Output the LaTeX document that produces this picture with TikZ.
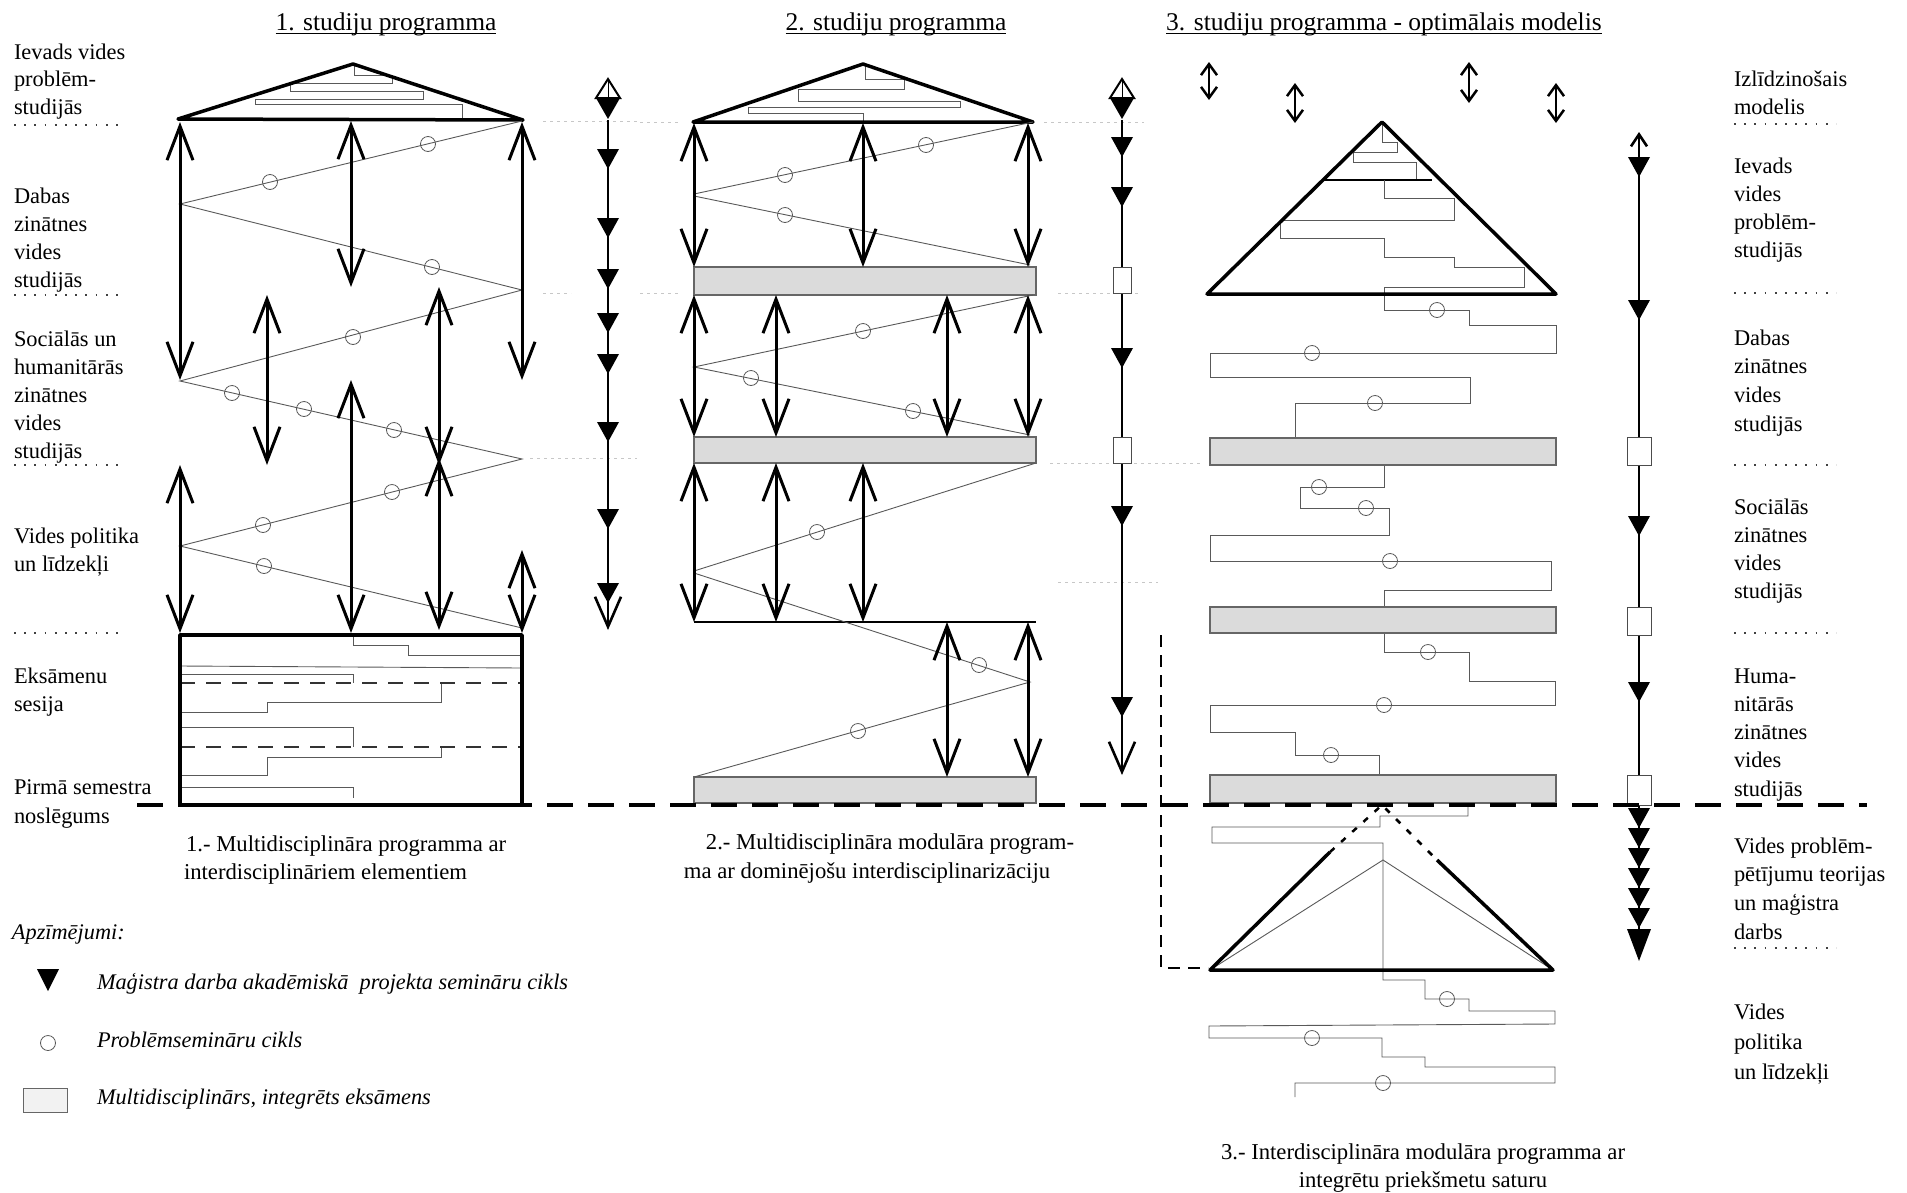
\documentclass[tikz,border=0pt]{standalone}
\usepackage{fontspec}
\setmainfont{Liberation Serif}
\usetikzlibrary{arrows.meta}

% a block of text lines: name, style, x, first baseline, line step, lines
\newcommand\textlines[6]{%
  \foreach \t [count=\i from 0] in {#6}{%
    \node[#2] (#1-\i) at (#3,{#4+#5*\i}) {\t};}}

\tikzset{
  every node/.style={inner sep=0pt, outer sep=0pt},
  lbl/.style={anchor=base west, font=\fontsize{22.4}{28}\selectfont},
  ttl/.style={anchor=base, font=\fontsize{25.5}{30}\selectfont},
  capw/.style={anchor=base west, font=\fontsize{22.7}{28}\selectfont},
  capc/.style={anchor=base, font=\fontsize{22.7}{28}\selectfont},
  leg/.style={anchor=base west, font=\fontsize{22.3}{28}\selectfont\itshape},
  frame/.style={line width=3.5pt, line join=round},
  thn/.style={line width=0.9pt, draw=black!65},
  dar/.style={line width=3pt,
    {Straight Barb[length=34pt,width=26pt]}-{Straight Barb[length=34pt,width=26pt]}},
  sdar/.style={line width=2.5pt,
    {Straight Barb[length=11pt,width=16pt]}-{Straight Barb[length=11pt,width=16pt]}},
  seminar/.style={circle, draw=black!65, line width=0.8pt, minimum size=15pt},
  exam/.style={fill=black!14, draw=black!60, line width=1.2pt},
  colbox/.style={fill=white, draw=black!70, line width=1pt},
  dots/.style={line width=1.8pt, dash pattern=on 1.8pt off 8.4pt, black!75},
  ghost/.style={line width=1pt, dash pattern=on 3pt off 4pt, black!22},
  col/.style={line width=2.6pt},
  dtri/.pic={\fill (-11,-10) -- (11,-10) -- (0,10) -- cycle;},
  bigtri/.pic={\fill (-12,-16) -- (12,-16) -- (0,16) -- cycle;},
}

\begin{document}
\begin{tikzpicture}[x=1pt,y=-1pt]
\path[use as bounding box] (0,0) rectangle (1907,1192);

% ---------- titles ----------
\node[ttl] (t1) at (386,30) {1. studiju programma};
\node[ttl] (t2) at (896,30) {2. studiju programma};
\node[ttl] (t3) at (1384,30) {3. studiju programma - optimālais modelis};
\foreach \n in {t1,t2,t3}
  \draw[line width=0.8pt] ([yshift=-3pt]\n.base west) -- ([yshift=-3pt]\n.base east);

% ---------- left row labels ----------
\textlines{la}{lbl}{14}{59}{27.5}{Ievads vides,problēm-,studijās}
\textlines{lb}{lbl}{14}{203}{28.3}{Dabas,zinātnes,vides,studijās}
\textlines{lc}{lbl}{14}{346}{28}{Sociālās un,humanitārās,zinātnes,vides,studijās}
\textlines{ld}{lbl}{14}{543}{28}{Vides politika,un līdzekļi}
\textlines{le}{lbl}{14}{683}{28}{Eksāmenu,sesija}
\textlines{lf}{lbl}{14}{794}{29}{Pirmā semestra,noslēgums}
\foreach \y in {125,295,465,633} \draw[dots] (14,\y) -- (118,\y);

% ---------- right row labels ----------
\textlines{ra}{lbl}{1734}{86}{28}{Izlīdzinošais,modelis}
\textlines{rb}{lbl}{1734}{173}{28.3}{Ievads,vides,problēm-,studijās}
\textlines{rc}{lbl}{1734}{345}{28.7}{Dabas,zinātnes,vides,studijās}
\textlines{rd}{lbl}{1734}{514}{28.3}{Sociālās,zinātnes,vides,studijās}
\textlines{re}{lbl}{1734}{683}{28.25}{Huma-,nitārās,zinātnes,vides,studijās}
\textlines{rf}{lbl}{1734}{853}{28.7}{Vides problēm-,pētījumu teorijas,un maģistra,darbs}
\textlines{rg}{lbl}{1734}{1019}{30}{Vides,politika,un līdzekļi}
\foreach \y in {124,293,465,633,948} \draw[dots] (1734,\y) -- (1836,\y);

% ---------- faint row guides ----------
\draw[ghost] (543,121) -- (637,121);
\draw[ghost] (543,293) -- (571,293);
\draw[ghost] (530,458) -- (637,458);
\draw[ghost] (640,122) -- (680,122) (1044,122) -- (1144,122);
\draw[ghost] (640,293) -- (680,293) (1058,293) -- (1140,293);
\draw[ghost] (1050,463) -- (1200,463);
\draw[ghost] (1058,582) -- (1158,582);

% =====================================================
% Programme 1
% =====================================================
\draw[thn] (354,65) -- (354,75) -- (392,75) -- (392,83) -- (290,83) -- (290,91)
  -- (423,91) -- (423,99) -- (255,99) -- (255,104) -- (462,104) -- (462,120);
\draw[frame] (178,119) -- (353,64) -- (523,120) -- cycle;

\draw[thn] (522,121) -- (180,204) -- (522,290) -- (180,381) -- (522,459)
  -- (180,546) -- (522,628);
\foreach \p [count=\i] in {(428,144),(270,182),(432,267),(353,337),(232,393),
    (304,409),(394,430),(392,492),(263,525),(264,566)}
  \node[seminar] (s1-\i) at \p {};

\draw[dar] (180,122) -- (180,380);
\draw[dar] (351,121) -- (351,287);
\draw[dar] (522,122) -- (522,380);
\draw[dar] (267,295) -- (267,465);
\draw[dar] (439,287) -- (439,465);
\draw[dar] (351,380) -- (351,633);
\draw[dar] (180,465) -- (180,633);
\draw[dar] (439,458) -- (439,630);
\draw[dar] (522,550) -- (522,633);

% examination session block
\draw[thn] (353,635) -- (353,645) -- (408,645) -- (408,655) -- (522,655);
\draw[thn] (180,666) -- (522,668);
\draw[thn] (180,674) -- (353,674) -- (353,683);
\draw[thn] (441,683) -- (441,702) -- (267,702) -- (267,712) -- (180,712);
\draw[thn] (180,727) -- (353,727) -- (353,747);
\draw[thn] (441,747) -- (441,757) -- (267,757) -- (267,775) -- (180,775);
\draw[thn] (180,787) -- (353,787) -- (353,798);
\draw[line width=2.5pt, dash pattern=on 15pt off 11pt, black!80]
  (180,683) -- (522,683) (180,747) -- (522,747);
\draw[frame] (180,635) rectangle (522,805);

% seminar column
\draw[col, -{Straight Barb[length=30pt,width=26pt]}] (608,120) -- (608,630);
\foreach \y in {159,228,279,323,364,432,519,593} \pic at (608,\y) {dtri};
\draw[line width=2pt, line join=miter] (596,98) -- (608,79) -- (620,98) -- cycle;
\draw[line width=1pt] (608,80) -- (608,98);
\fill (596,98) -- (620,98) -- (608,119) -- cycle;

% =====================================================
% Programme 2
% =====================================================
\draw[thn] (865,65) -- (865,79) -- (904,79) -- (904,89) -- (798,89) -- (798,101)
  -- (960,101) -- (960,107) -- (748,107) -- (748,113) -- (863,113) -- (863,122);
\draw[frame] (693,122) -- (863,64) -- (1033,122) -- cycle;

\draw[exam] (694,267) rectangle (1036,295);
\draw[exam] (694,437) rectangle (1036,463);
\draw[exam] (694,777) rectangle (1036,803);
\draw[line width=2.5pt] (694,622) -- (1036,622);

\draw[thn] (1033,122) -- (694,194) (694,196) -- (1030,265);
\draw[thn] (1033,295) -- (694,367) -- (1030,435);
\draw[thn] (1036,463) -- (694,571) (694,573) -- (1030,682) -- (694,777);
\foreach \p [count=\i] in {(926,145),(785,175),(785,215),(863,331),(751,378),
    (913,411),(817,532),(979,665),(858,731)}
  \node[seminar] (s2-\i) at \p {};

\draw[dar] (694,123) -- (694,267);
\draw[dar] (863,123) -- (863,267);
\draw[dar] (1028,123) -- (1028,267);
\draw[dar] (694,295) -- (694,437);
\draw[dar] (776,295) -- (776,437);
\draw[dar] (947,295) -- (947,437);
\draw[dar] (1028,295) -- (1028,437);
\draw[dar] (694,463) -- (694,622);
\draw[dar] (776,463) -- (776,622);
\draw[dar] (863,463) -- (863,622);
\draw[dar] (947,622) -- (947,777);
\draw[dar] (1028,622) -- (1028,777);

% seminar column
\draw[col, -{Straight Barb[length=30pt,width=26pt]}] (1122,120) -- (1122,775);
\foreach \y in {147,197,358,516,707} \pic at (1122,\y) {dtri};
\draw[colbox] (1113,267) rectangle (1131,293);
\draw[colbox] (1113,437) rectangle (1131,463);
\draw[line width=2pt, line join=miter] (1110,98) -- (1122,79) -- (1134,98) -- cycle;
\draw[line width=1pt] (1122,80) -- (1122,98);
\fill (1110,98) -- (1134,98) -- (1122,119) -- cycle;

% =====================================================
% Programme 3
% =====================================================
\draw[sdar] (1209,62) -- (1209,100);
\draw[sdar] (1295,83) -- (1295,123);
\draw[sdar] (1469,62) -- (1469,103);
\draw[sdar] (1556,83) -- (1556,123);

\draw[thn] (1382,124) -- (1382,142) -- (1397,142) -- (1397,152) -- (1353,152)
  -- (1353,162) -- (1416,162) -- (1416,180);
\draw[line width=2.5pt] (1323,180) -- (1432,180);
\draw[thn] (1384,180) -- (1384,198) -- (1454,198) -- (1454,220) -- (1280,220)
  -- (1280,238) -- (1384,238) -- (1384,257) -- (1454,257) -- (1454,267)
  -- (1524,267) -- (1524,287) -- (1384,287) -- (1384,310) -- (1469,310)
  -- (1469,325) -- (1556,325) -- (1556,353) -- (1210,353) -- (1210,377)
  -- (1470,377) -- (1470,403) -- (1295,403) -- (1295,438);
\draw[frame] (1207,294) -- (1382,122) -- (1556,294) -- cycle;

\draw[thn] (1384,465) -- (1384,487) -- (1300,487) -- (1300,508) -- (1389,508)
  -- (1389,535) -- (1210,535) -- (1210,561) -- (1551,561) -- (1551,590)
  -- (1384,590) -- (1384,607);
\draw[thn] (1384,633) -- (1384,652) -- (1469,652) -- (1469,681) -- (1555,681)
  -- (1555,705) -- (1210,705) -- (1210,732) -- (1295,732) -- (1295,755)
  -- (1379,755) -- (1379,775);
\draw[thn] (1468,803) -- (1468,816) -- (1380,816) -- (1380,827) -- (1212,827)
  -- (1212,843) -- (1383,843) -- (1383,980) -- (1425,980) -- (1425,999)
  -- (1469,999) -- (1469,1011) -- (1555,1011) -- (1555,1024) -- (1209,1026)
  -- (1209,1038) -- (1382,1038) -- (1382,1057) -- (1425,1057) -- (1425,1067)
  -- (1555,1067) -- (1555,1083) -- (1295,1083) -- (1295,1097);

\draw[exam] (1210,438) rectangle (1556,465);
\draw[exam] (1210,607) rectangle (1556,633);
\draw[exam] (1210,775) rectangle (1556,803);

\foreach \p [count=\i] in {(1437,310),(1312,353),(1375,403),(1319,487),(1366,508),
    (1390,561),(1428,652),(1384,705),(1331,755),(1447,999),(1312,1038),(1383,1083)}
  \node[seminar] (s3-\i) at \p {};

% final module: thesis pyramid
\draw[thn] (1210,970) -- (1383,860) -- (1553,970);
\draw[frame] (1330,852) -- (1210,970) -- (1553,970) -- (1437,860);
\draw[line width=2.5pt, dash pattern=on 6pt off 9pt] (1330,852) -- (1382,805) -- (1437,860);

% link from the second examination back to the pyramid
\draw[line width=1.5pt, dash pattern=on 12pt off 8pt] (1161,635) -- (1161,968) -- (1208,968);

% seminar column
\draw[col, {Straight Barb[length=12pt,width=16pt]}-] (1639,132) -- (1639,805);
\draw[col] (1639,805) -- (1639,955);
\foreach \y in {167,310,526,692} \pic at (1639,\y) {dtri};
\foreach \y in {818,838,858,878,898,918} \pic at (1639,\y) {dtri};
\pic at (1639,945) {bigtri};
\draw[colbox] (1627,437) rectangle (1651,465);
\draw[colbox] (1627,607) rectangle (1651,635);
\draw[colbox] (1627,775) rectangle (1651,805);

% end of the first semester
\draw[line width=4pt, dash pattern=on 26pt off 15pt] (137,805) -- (1867,805);

% ---------- captions ----------
\node[capw] (c1a) at (186,851) {1.- Multidisciplināra programma ar};
\node[capw] (c1b) at (184,879) {interdisciplināriem elementiem};
\node[capc] (c2a) at (890,849) {2.- Multidisciplināra modulāra program-};
\node[capc] (c2b) at (867,878) {ma ar dominējošu interdisciplinarizāciju};
\node[capc] (c3a) at (1423,1159) {3.- Interdisciplināra modulāra programma ar};
\node[capc] (c3b) at (1423,1187) {integrētu priekšmetu saturu};

% ---------- legend ----------
\node[leg] (lg0) at (12,939) {Apzīmējumi:};
\fill (37,969) -- (59,969) -- (48,991) -- cycle;
\node[leg] (lg1) at (97,989) {Maģistra darba akadēmiskā\ \ projekta semināru cikls};
\node[seminar] (lgc) at (48,1043) {};
\node[leg] (lg2) at (97,1047) {Problēmsemināru cikls};
\draw[fill=black!5, draw=black!60, line width=1pt] (23,1088) rectangle (67,1112);
\node[leg] (lg3) at (97,1104) {Multidisciplinārs, integrēts eksāmens};
\end{tikzpicture}
\end{document}
